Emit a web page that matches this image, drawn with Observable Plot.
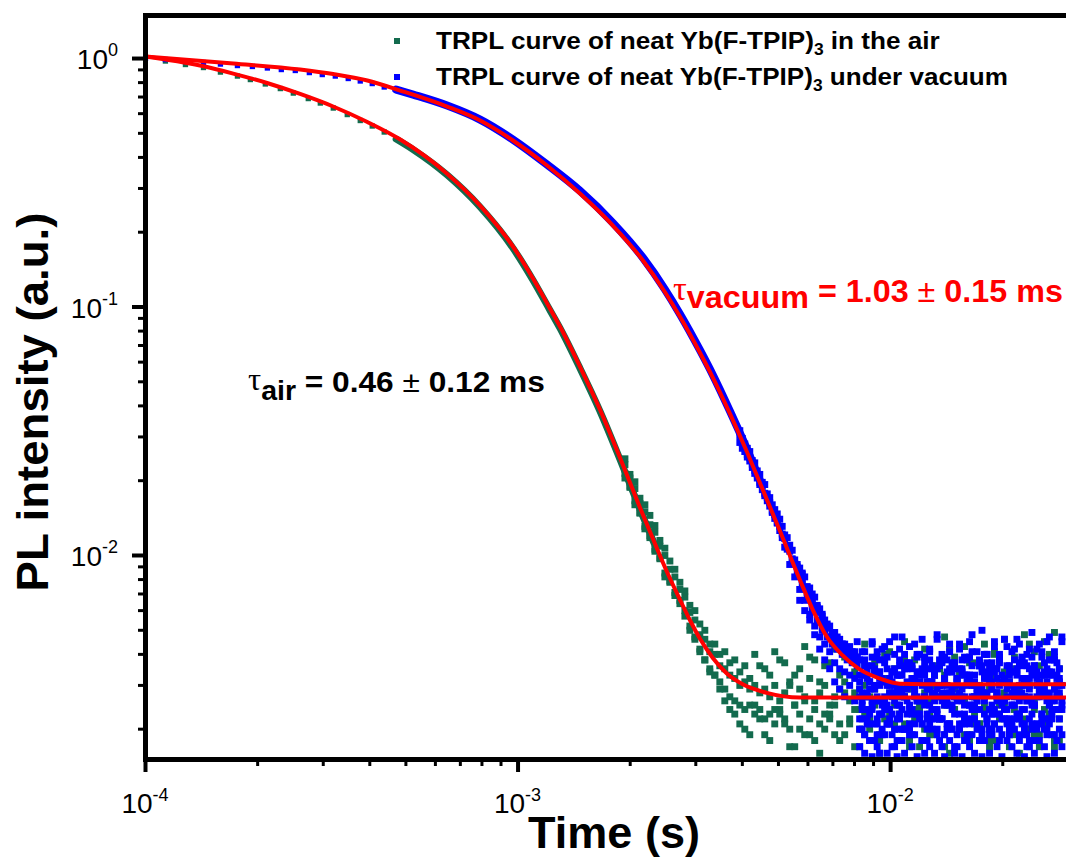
<!DOCTYPE html>
<html><head><meta charset="utf-8">
<script src="https://cdn.jsdelivr.net/npm/d3@7"></script>
<script src="https://cdn.jsdelivr.net/npm/@observablehq/plot@0.6"></script>
<style>
html,body{margin:0;padding:0;background:#fff;overflow:hidden;}
#chart svg{display:block;}
</style></head><body><div id="chart"></div>
<script>
// ---------------- tick values ----------------
const xMajorTicks = [1e-4, 1e-3, 1e-2];
const xTickExponents = ["-4", "-3", "-2"];
const xMinorTicks = [2e-4,3e-4,4e-4,5e-4,6e-4,7e-4,8e-4,9e-4,2e-3,3e-3,4e-3,5e-3,6e-3,7e-3,8e-3,9e-3,2e-2,3e-2];
const yMajorTicks = [1e-2, 1e-1, 1];
const yTickExponents = ["-2", "-1", "0"];
const yMinorTicks = [0.002,0.003,0.004,0.005,0.006,0.007,0.008,0.009,0.02,0.03,0.04,0.05,0.06,0.07,0.08,0.09,0.2,0.3,0.4,0.5,0.6,0.7,0.8,0.9];

// ---------------- fit curves (time s, intensity) ----------------
const airFitT = [1.00e-4,1.40e-4,1.72e-4,2.12e-4,2.60e-4,3.19e-4,3.94e-4,4.83e-4,6.45e-4,7.91e-4,9.69e-4,1.097e-3,1.218e-3,1.296e-3,1.466e-3,1.659e-3,1.877e-3,2.124e-3,2.330e-3,2.508e-3,2.719e-3,2.892e-3,3.076e-3,3.333e-3,3.634e-3,4.011e-3,4.652e-3,5.702e-3,3.04e-2];
const airFitI = [1.019,0.937,0.870,0.797,0.720,0.641,0.555,0.472,0.344,0.256,0.1752,0.1302,0.0986,0.0835,0.0576,0.0387,0.0248,0.0156,0.01118,0.00862,0.00665,0.00550,0.00463,0.00387,0.00335,0.00303,0.00280,0.00268,0.00268];
const vacFitT = [1.00e-4,1.72e-4,2.60e-4,3.19e-4,3.94e-4,4.83e-4,6.45e-4,7.91e-4,9.69e-4,1.196e-3,1.466e-3,1.797e-3,2.164e-3,2.478e-3,2.719e-3,3.076e-3,3.333e-3,3.702e-3,4.111e-3,4.455e-3,5.040e-3,5.702e-3,6.178e-3,6.737e-3,7.435e-3,8.258e-3,9.343e-3,1.057e-2,1.44e-2,3.04e-2];
const vacFitI = [1.019,0.955,0.903,0.866,0.816,0.743,0.641,0.563,0.468,0.371,0.2862,0.2128,0.1539,0.1149,0.0915,0.0656,0.0520,0.0373,0.0262,0.01967,0.01261,0.00801,0.00606,0.00472,0.00396,0.00348,0.00320,0.00305,0.00303,0.00303];

// ---------------- air data (green) ----------------
const airEarlyT = [1.131e-4,1.280e-4,1.431e-4,1.589e-4,1.765e-4,1.912e-4,2.097e-4,2.301e-4,2.493e-4,2.735e-4,2.946e-4,3.192e-4,3.480e-4,3.771e-4,4.061e-4,4.373e-4];
const airEarlyI = [0.977,0.946,0.920,0.882,0.850,0.823,0.790,0.757,0.726,0.690,0.662,0.632,0.595,0.563,0.535,0.506];
const airBandT = [4.709e-4,5.23e-4,6.45e-4,7.91e-4,9.69e-4,1.097e-3,1.218e-3,1.296e-3,1.466e-3,1.659e-3,1.877e-3,2.124e-3,2.330e-3];
const airBandI = [0.474,0.430,0.340,0.2526,0.1726,0.1282,0.0971,0.0822,0.0567,0.0381,0.0244,0.01537,0.01101];
// tail: time in units of 10 µs, intensity in units of 1e-4
const airTailT_10us = [193.6,199.7,205.9,212.4,219.0,225.9,233.0,240.3,247.8,255.6,263.6,271.9,280.4,289.2,298.3,307.6,317.2,327.1,337.4,348.0,358.9,370.2,381.7,393.8,406.1,418.8,431.9,445.5,459.4,473.8,488.7,504.0,519.7,536.1,552.9,570.2,588.1,606.5,625.5,645.2,665.4,686.3,707.8,730.0,752.9,776.5,800.9,825.9,851.9,878.5,906.1,934.5,963.7,993.8,1025,1057,1090,1124,1160,1196,1234,1273,1312,1353,1396,1440,1485,1531,1579,1629,1680,1732,1786,1843,1900,1960,2021,2084,2150,2217,2287,2358,2432,2508,2588,2668,2753,2838];
const airTailL1 = [232,205,186,162,150,133,124,109,100,88, 82,73,68,59,55,48,46,41,40,36, 35,33,32,30,31,29,30,28,29,27, 30,26,28,31,25,29,27,32,26,28, 30,25,27,29,31,26,28,24,30,27, 29,26,32,28,25,30,27,29,24,31, 28,26,30,27,33,25,29,28,26,31, 27,30,25,29,32,26,28,31,24,29, 27,30,26,28,33,25,29,27];
const airTailL2 = [214,188,166,149,131,120,106,97,85,78, 69,64,57,52,46,41,38,35,33,31, 29,27,26,25,24,25,23,24,22,23, 21,24,22,20,25,23,19,22,24,21, 20,23,25,21,19,22,24,20,23,21, 25,19,22,24,20,23,21,18,22,24, 20,23,19,22,25,21,24,20,22,19, 23,21,24,20,18,22,25,21,19,23, 22,20,24,19,21,23,18,22];
const airTailL3 = [245,190,198,148,160,118,132,98,107,79, 88,66,72,50,60,42,50,34,44,29, 41,24,38,21,36,19,40,22,35,18, 41,23,37,17,33,20,43,19,38,16, 36,22,42,18,39,21,34,17,44,20, 37,16,40,23,35,18,45,21,38,17, 42,19,36,22,47,16,39,20,43,18, 37,21,44,17,40,23,46,19,35,16, 48,20,41,17,45,22,49,18];
const airTailL4 = [205,212,160,170,128,145,104,115,82,95, 71,78,60,63,47,53,38,44,33,40, 26,37,23,34,20,32,25,36,19,33, 24,38,21,30,17,35,26,39,18,31, 23,37,19,33,28,40,17,29,36,22, 34,18,31,41,21,27,38,17,32,25, 39,20,30,35,17,42,24,33,19,37, 21,36,28,18,41,25,34,17,39,22, 31,44,19,36,24,40,17,35];

// ---------------- vacuum data (blue) ----------------
const vacEarlyT = [1.000e-4,1.131e-4,1.280e-4,1.431e-4,1.589e-4,1.765e-4,1.936e-4,2.124e-4,2.315e-4,2.524e-4,2.753e-4,2.982e-4,3.232e-4,3.501e-4,3.771e-4,4.061e-4,4.373e-4];
const vacEarlyI = [1.000,0.991,0.973,0.964,0.950,0.937,0.929,0.916,0.903,0.895,0.878,0.862,0.850,0.831,0.812,0.793,0.768];
const vacBandT = [4.709e-4,5.23e-4,6.45e-4,7.91e-4,9.69e-4,1.196e-3,1.466e-3,1.797e-3,2.164e-3,2.478e-3,2.719e-3,3.076e-3,3.333e-3,3.702e-3,4.111e-3,4.455e-3];
const vacBandI = [0.750,0.716,0.647,0.568,0.472,0.3745,0.2935,0.2181,0.1578,0.1178,0.0938,0.0672,0.0533,0.0382,0.0269,0.02016];
const vacDecayT_10us = [393.8,399.9,406.1,412.4,418.8,425.3,431.9,438.6,445.5,452.4,459.4,466.6,473.8,481.2,488.7,496.3,504.0,511.8,519.7,527.8,536.1,544.4,552.9,561.5,570.2,579.1,588.1,597.2,606.5,616.0,625.5,635.3,645.2,655.2,665.4,675.8,686.3,697.0,707.8,718.8,730.0,741.4,752.9,764.6,776.5,788.6,800.9,813.3];
const vacDecayL1 = [304,283,272,255,247,233,220,211,197,192, 178,171,163,151,146,136,131,122,117,108, 104,96,93,86,83,77,74,68,67,61, 60,55,54,50,50,47,47,44,45,42, 43,40,41,38,40,37,38,36];
const vacDecayL2 = [318,296,281,270,262,241,236,219,212,197, 193,177,171,160,153,147,140,131,121,118, 110,105,96,92,89,80,82,71,74,64, 68,59,61,53,55,51,52,46,49,44, 46,42,44,40,43,38,41,39];
const vacDecayL3 = [285,270,262,249,240,226,214,205,193,184, 174,166,158,149,141,135,126,118,108,106, 92,97,82,90,73,84,66,75,58,70, 52,63,47,58,44,52,41,49,37,47, 35,44,34,42,33,41,32,39];
const vacMidT_10us = [570.2,579.1,588.1,597.2,606.5,616.0,625.5,635.3,645.2,655.2,665.4,675.8,686.3,697.0,707.8,718.8,730.0,741.4,752.9,764.6,776.5,788.6,800.9,813.3];
const vacMidI = [66,85,60,74,55,67,48,62,42,57,38,53,35,49,31,46,29,44,27,42,30,40,26,45];
const vacTailT_10us = [825.9,838.7,851.9,865.1,878.5,892.2,906.1,920.2,934.5,949.0,963.7,978.7,993.8,1009,1025,1041,1057,1073,1090,1107,1124,1142,1160,1178,1196,1215,1234,1253,1273,1292,1312,1333,1353,1374,1396,1418,1440,1462,1485,1508,1531,1555,1579,1604,1629,1654,1680,1706,1732,1759,1786,1814,1843,1871,1900,1930,1960,1990,2021,2053,2084,2117,2150,2183,2217,2252,2287,2322,2358,2395,2432,2470,2508,2547,2588,2628,2668,2710,2753,2795,2838,2883];
const vacTailP1 = [38,33,41,36,31,44,35,39,32,42, 37,30,45,34,40,33,38,47,35,31, 43,36,32,39,34,46,37,31,41,35, 33,48,36,40,32,38,44,34,37,30, 42,35,39,31,45,36,33,41,38,50, 34,40,32,37,43,35,39,31,46,36, 33,41,38,34,44,32,37,40,35,49, 36,42,31,39,34,45,38,33,41,37, 35,47];
const vacTailP2 = [29,26,33,28,31,25,34,27,30,32, 24,35,28,31,26,29,33,27,36,30, 25,32,28,34,26,30,27,35,29,31, 33,24,30,28,32,26,35,29,27,31, 28,34,25,30,33,27,31,26,36,29, 32,28,24,31,35,27,30,33,26,29, 31,25,34,28,30,36,27,32,29,26, 35,30,27,33,28,31,25,34,29,32, 28,30];
const vacTailP3 = [22,25,19,27,21,24,18,26,23,20, 26,21,24,19,28,22,25,20,27,23, 19,24,21,26,23,18,27,22,25,20, 24,20,27,22,19,25,21,28,23,26, 21,26,23,18,25,22,27,20,24,19, 27,22,20,25,21,28,23,19,26,24, 20,25,22,27,19,24,21,26,18,23, 25,21,28,23,20,26,22,24,19,27, 22,25];
const vacTailP4 = [17,20,16,22,18,15.5,21,19,16,23, 19,16,21,17,20,15.5,22,18,16,20, 21,17,19,15.5,23,18,16,20,17,22, 16,19,22,17,15.5,21,18,20,16,19, 20,15.5,18,22,17,19,16,21,18,15.5, 18,21,16,19,23,17,20,15.5,22,18, 22,17,20,16,18,21,15.5,19,17,20, 16,20,18,22,17,15.5,21,19,16,18, 20,17];
const vacTailP5 = [27,41,19,34,23,45,30,17,38,25, 43,21,32,28,47,18,36,24,40,29, 20,35,44,26,31,18,39,23,42,28, 33,46,22,37,19,30,41,25,35,17, 44,27,21,38,32,48,24,29,18,36, 26,40,33,20,45,28,37,22,31,43, 19,34,27,46,23,39,30,17,42,25, 36,21,44,28,33,19,47,26,38,24, 31,45];
const vacTailP6 = [33,24,38,21,29,36,26,41,23,31, 27,39,22,34,30,25,42,28,20,35, 37,23,31,27,40,21,33,29,38,24, 26,35,30,22,39,28,34,20,36,32, 23,38,27,33,21,41,25,30,37,28, 40,22,35,29,24,32,38,26,31,21, 34,28,42,23,37,30,20,36,27,39, 25,32,29,41,22,35,28,38,24,33, 30,26];
const vacTailP7 = [31,22,36,27,24,39,29,21,34,26, 38,25,30,23,35,28,20,33,27,37, 24,32,29,40,22,35,26,31,21,36, 28,23,38,30,25,34,21,37,27,32, 35,29,22,33,39,24,30,26,36,20, 27,37,31,23,34,28,40,25,32,22, 36,21,29,35,26,38,24,31,22,33, 25,34,30,21,37,27,33,23,39,28, 32,24];
const vacTailP8 = [20,28,24,32,18,26,30,22,34,19, 25,31,21,27,17,33,23,29,20,26, 30,19,27,23,33,21,25,18,31,24, 22,29,18,26,31,20,28,24,17,32, 27,21,33,19,25,30,22,28,20,34, 23,32,19,29,21,26,18,31,24,27, 30,20,25,33,22,28,19,26,32,21, 18,27,31,23,29,20,34,22,26,30, 24,19];

// ---------------- build tables ----------------
const GREEN = "#136b4e", BLUE = "#0000ff", RED = "#ff0000";
const SANS = "'Liberation Sans', Arial, Helvetica, sans-serif";
const SERIF = "'Liberation Serif', 'Times New Roman', serif";
const pts = (T, I, kt = 1, ki = 1) => T.map((t, i) => ({t: t * kt, v: I[i] * ki}));
const layered = (T, layers, kt, ki) => layers.flatMap(L => pts(T, L, kt, ki));

const airFit = pts(airFitT, airFitI);
const vacFit = pts(vacFitT, vacFitI);
const airEarly = pts(airEarlyT, airEarlyI);
const airBand = pts(airBandT, airBandI);
const airTail = layered(airTailT_10us, [airTailL1, airTailL2, airTailL3, airTailL4], 1e-5, 1e-4);
const vacEarly = pts(vacEarlyT, vacEarlyI);
const vacBand = pts(vacBandT, vacBandI);
const vacDecay = layered(vacDecayT_10us, [vacDecayL1, vacDecayL2, vacDecayL3], 1e-5, 1e-4);
const vacMid = pts(vacMidT_10us, vacMidI, 1e-5, 1e-4);
const vacTail = layered(vacTailT_10us, [vacTailP1, vacTailP2, vacTailP3, vacTailP4, vacTailP5, vacTailP6, vacTailP7, vacTailP8], 1e-5, 1e-4);

const dotOpts = (fill, r) => ({x: "t", y: "v", symbol: "square", r, fill, stroke: "none", clip: true});
const noText = () => "";

const plot = Plot.plot({
  width: 1070, height: 857,
  marginLeft: 145, marginRight: 0, marginTop: 15, marginBottom: 98,
  style: {background: "white", maxWidth: "none", fontFamily: SANS},
  x: {type: "log", domain: [1e-4, 0.0304], label: null},
  y: {type: "log", domain: [0.00151, 1.49], label: null},
  marks: [
    Plot.line(airBand, {x: "t", y: "v", stroke: GREEN, strokeWidth: 7, curve: "monotone-x", clip: true}),
    Plot.dot(airEarly, dotOpts(GREEN, 3.0)),
    Plot.dot(airTail, dotOpts(GREEN, 3.9)),
    Plot.line(vacBand, {x: "t", y: "v", stroke: BLUE, strokeWidth: 8, curve: "monotone-x", clip: true}),
    Plot.dot(vacEarly, dotOpts(BLUE, 3.0)),
    Plot.dot(vacDecay, dotOpts(BLUE, 3.9)),
    Plot.dot(vacMid, dotOpts(BLUE, 3.9)),
    Plot.dot(vacTail, dotOpts(BLUE, 3.9)),
    Plot.line(airFit, {x: "t", y: "v", stroke: RED, strokeWidth: 4, curve: "monotone-x", clip: true}),
    Plot.line(vacFit, {x: "t", y: "v", stroke: RED, strokeWidth: 4, curve: "monotone-x", clip: true}),
    Plot.axisX(xMajorTicks, {anchor: "bottom", tickSize: 13, strokeWidth: 4, tickFormat: noText, label: null}),
    Plot.axisX(xMinorTicks, {anchor: "bottom", tickSize: 7, strokeWidth: 3, tickFormat: noText, label: null}),
    Plot.axisY(yMajorTicks, {anchor: "left", tickSize: 13, strokeWidth: 4, tickFormat: noText, label: null}),
    Plot.axisY(yMinorTicks, {anchor: "left", tickSize: 7, strokeWidth: 3, tickFormat: noText, label: null}),
    Plot.frame({stroke: "black", strokeWidth: 5})
  ]
});
document.getElementById("chart").appendChild(plot);

// ---------------- text overlays ----------------
const svg = d3.select(plot);
const sx = plot.scale("x"), sy = plot.scale("y");
const g = svg.append("g").attr("font-family", SANS).attr("text-anchor", "start").style("white-space", "pre");

function rich(x, y, parts, fill, anchor) {
  const t = g.append("text").attr("x", x).attr("y", y).attr("fill", fill || "black")
    .attr("text-anchor", anchor || "start");
  parts.forEach(p => {
    const s = t.append("tspan").text(p.t)
      .attr("font-size", p.size)
      .attr("font-weight", p.weight || "bold")
      .attr("font-family", p.family || SANS);
    if (p.dy) s.attr("dy", p.dy);
  });
  return t;
}
function fitWidth(t, x0, target) {
  const w = t.node().getComputedTextLength();
  if (w > 0) {
    const s = Math.max(0.6, Math.min(1.5, target / w));
    t.attr("transform", `translate(${x0},0) scale(${s},1) translate(${-x0},0)`);
  }
}

// tick labels
xMajorTicks.forEach((v, i) => {
  rich(sx.apply(v), 813, [{t: "10", size: 28, weight: "normal"}, {t: xTickExponents[i], size: 18, weight: "normal", dy: -12}], "black", "middle");
});
yMajorTicks.forEach((v, i) => {
  rich(118, sy.apply(v) + 11, [{t: "10", size: 28, weight: "normal"}, {t: yTickExponents[i], size: 18, weight: "normal", dy: -13}], "black", "end");
});

// axis titles
const tx = rich(614, 848, [{t: "Time (s)", size: 44}], "black", "middle");
fitWidth(tx, 614, 172);
const ytg = g.append("g").attr("transform", "translate(48,402) rotate(-90)");
const ty = ytg.append("text").attr("x", 0).attr("y", 0).attr("text-anchor", "middle")
  .attr("font-size", 44).attr("font-weight", "bold").attr("font-family", SANS).text("PL intensity (a.u.)");
fitWidth(ty, 0, 379);

// legend
g.append("rect").attr("x", 394).attr("y", 38).attr("width", 6).attr("height", 6).attr("fill", GREEN);
g.append("rect").attr("x", 394).attr("y", 74).attr("width", 6).attr("height", 6).attr("fill", BLUE);
const l1 = rich(436, 49, [{t: "TRPL curve of neat Yb(F-TPIP)", size: 24}, {t: "3", size: 16, dy: 6}, {t: " in the air", size: 24, dy: -6}]);
fitWidth(l1, 436, 504);
const l2 = rich(436, 85, [{t: "TRPL curve of neat Yb(F-TPIP)", size: 24}, {t: "3", size: 16, dy: 6}, {t: " under vacuum", size: 24, dy: -6}]);
fitWidth(l2, 436, 572);

// annotations
const a1 = rich(248, 390, [
  {t: "τ", size: 31, weight: "normal", family: SERIF},
  {t: "air", size: 27, dy: 10},
  {t: " = 0.46 ", size: 30, dy: -8},
  {t: "±", size: 30, weight: "normal"},
  {t: " 0.12 ms", size: 30}
], "black");
fitWidth(a1, 248, 297);
const a2 = rich(673, 300, [
  {t: "τ", size: 33, weight: "normal", family: SERIF},
  {t: "vacuum", size: 31, dy: 8},
  {t: " = 1.03 ", size: 31, dy: -6},
  {t: "±", size: 31, weight: "normal"},
  {t: " 0.15 ms", size: 31}
], RED);
fitWidth(a2, 673, 390);
</script></body></html>
